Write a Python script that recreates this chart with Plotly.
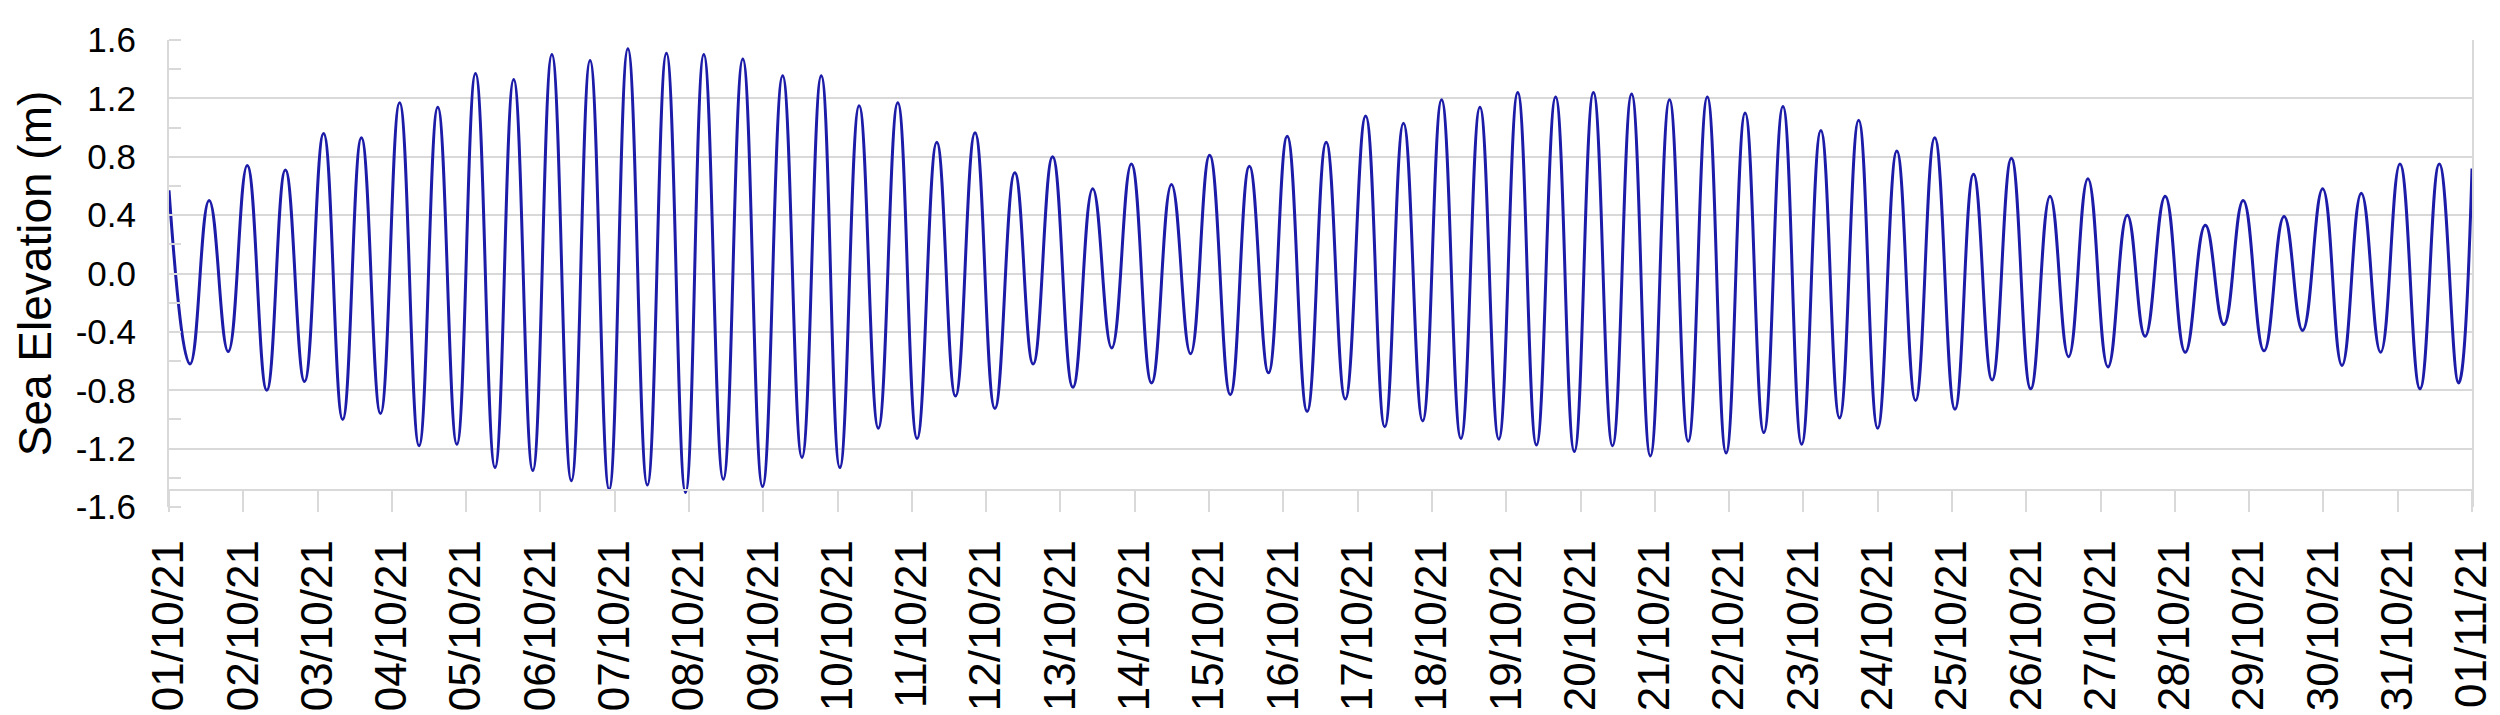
"""Sea elevation record, October 2021 (semidiurnal tide)."""

import pandas as pd
import plotly.graph_objects as go

# ── Data: successive high / low waters ─────────────────────────────────────────
# time in days since 01/10/2021 00:00, elevation in metres
START = "2021-10-01"
END = "2021-11-01"

TIDE_DAYS = [
    0.0, 0.283, 0.540, 0.797, 1.053, 1.316, 1.567, 1.824, 2.081, 2.338,
    2.590, 2.847, 3.104, 3.366, 3.618, 3.875, 4.126, 4.388, 4.640, 4.897,
    5.154, 5.416, 5.668, 5.925, 6.177, 6.439, 6.696, 6.953, 7.199, 7.461,
    7.724, 7.99, 8.26, 8.52, 8.78, 9.03, 9.29, 9.548, 9.81, 10.07,
    10.335, 10.587, 10.85, 11.117, 11.385, 11.632, 11.894, 12.167, 12.434, 12.69,
    12.954, 13.226, 13.494, 13.751, 14.008, 14.286, 14.543, 14.80, 15.052, 15.32,
    15.577, 15.834, 16.108, 16.365, 16.617, 16.875, 17.13, 17.39, 17.646, 17.90,
    18.155, 18.407, 18.665, 18.917, 19.174, 19.431, 19.688, 19.94, 20.198, 20.45,
    20.707, 20.96, 21.216, 21.468, 21.725, 21.977, 22.235, 22.487, 22.744, 23.0,
    23.258, 23.51, 23.768, 24.04, 24.29, 24.54, 24.80, 25.06, 25.32, 25.57,
    25.83, 26.10, 26.36, 26.60, 26.87, 27.14, 27.41, 27.66, 27.92, 28.20,
    28.47, 28.72, 28.99, 29.25, 29.51, 29.77, 30.03, 30.30, 30.56, 30.82,
    31.0,
]

TIDE_ELEV = [
    0.57, -0.62, 0.50, -0.535, 0.74, -0.80, 0.71, -0.74, 0.96, -1.00,
    0.93, -0.96, 1.17, -1.18, 1.14, -1.17, 1.37, -1.33, 1.33, -1.35,
    1.50, -1.42, 1.46, -1.48, 1.54, -1.45, 1.51, -1.50, 1.50, -1.41,
    1.47, -1.46, 1.355, -1.26, 1.355, -1.33, 1.15, -1.06, 1.17, -1.13,
    0.90, -0.84, 0.965, -0.925, 0.69, -0.62, 0.80, -0.78, 0.58, -0.51,
    0.75, -0.75, 0.61, -0.55, 0.81, -0.83, 0.735, -0.68, 0.94, -0.945,
    0.90, -0.86, 1.08, -1.05, 1.03, -1.01, 1.19, -1.13, 1.14, -1.135,
    1.24, -1.175, 1.21, -1.22, 1.24, -1.18, 1.23, -1.25, 1.19, -1.15,
    1.21, -1.23, 1.10, -1.09, 1.145, -1.17, 0.98, -0.99, 1.05, -1.06,
    0.84, -0.87, 0.93, -0.93, 0.68, -0.73, 0.79, -0.79, 0.53, -0.57,
    0.65, -0.64, 0.40, -0.43, 0.53, -0.54, 0.33, -0.35, 0.50, -0.53,
    0.39, -0.39, 0.58, -0.63, 0.55, -0.54, 0.75, -0.79, 0.75, -0.75,
    0.72,
]

Y_TICKS = [-1.6, -1.2, -0.8, -0.4, 0.0, 0.4, 0.8, 1.2, 1.6]
Y_LABELS = [f"{v:.1f}" for v in Y_TICKS]

# ── Estilo ─────────────────────────────────────────────────────────────────────
GRID = "#d9d9d9"
LINE = "#1c1ca8"
FONT = "Liberation Sans"

times = pd.Timestamp(START) + pd.to_timedelta(TIDE_DAYS, unit="D")

fig = go.Figure()
fig.add_trace(
    go.Scatter(
        x=times,
        y=TIDE_ELEV,
        mode="lines",
        line=dict(color=LINE, width=3, shape="spline", smoothing=1.3),
        showlegend=False,
    )
)

fig.update_layout(
    width=2500,
    height=715,
    margin=dict(l=161, r=36, t=30, b=206),
    paper_bgcolor="white",
    plot_bgcolor="white",
    font=dict(family=FONT, color="black"),
)

fig.update_xaxes(
    type="date",
    range=[START, END],
    tick0=START,
    dtick=86400000,
    tickformat="%d/%m/%y",
    tickangle=-90,
    tickfont=dict(size=44, family=FONT),
    ticks="outside",
    ticklen=21,
    tickwidth=2,
    tickcolor=GRID,
    ticklabelstandoff=10,
    showgrid=False,
    zeroline=False,
    showline=True,
    linecolor=GRID,
    linewidth=2,
    anchor="free",
    position=0.0355,
)

fig.update_yaxes(
    range=[-1.6, 1.6],
    tickvals=Y_TICKS,
    ticktext=Y_LABELS,
    tickfont=dict(size=35, family=FONT),
    ticks="",
    ticklabelstandoff=24,
    showgrid=True,
    gridcolor=GRID,
    gridwidth=2,
    zeroline=False,
    showline=True,
    mirror=True,
    linecolor=GRID,
    linewidth=2,
    minor=dict(dtick=0.2, tick0=-1.6, ticks="inside", ticklen=12,
               tickwidth=2, tickcolor=GRID, showgrid=False),
    title=dict(text="Sea Elevation (m)", font=dict(size=46, family=FONT),
               standoff=10),
)

fig.write_html("out.html")
